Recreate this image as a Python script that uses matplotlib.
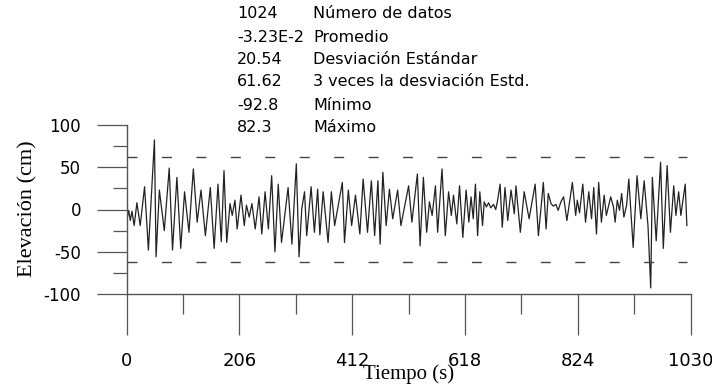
#!/usr/bin/env python
"""Registro de elevación de oleaje (1024 datos) -> out.png."""

import matplotlib.pyplot as plt
from matplotlib.ticker import MultipleLocator

plt.rcParams["axes.unicode_minus"] = False

# Puntos de giro del registro (tiempo en s, elevación en cm)
TIME = [
    0, 4, 7, 10, 14, 19, 25, 33, 40, 51, 54, 60, 69, 78, 84, 92, 99, 106, 114,
    122, 129, 136, 144, 153, 160, 167,
    173, 178, 183, 189, 193, 198, 202, 209, 215, 219, 224, 229, 235, 242, 247,
    253, 259, 265, 271, 277, 283, 295, 302, 310, 315, 320, 325, 329, 337, 343,
    349,
    353, 359, 368, 374, 380, 394, 398, 405, 411, 418, 426, 432, 440, 447, 453,
    459, 463, 468, 474, 480, 486, 495, 501, 515, 521, 531,
    536, 542, 548, 553, 558, 564, 568, 576, 582, 588, 593, 597, 603, 608, 614,
    620, 625, 629, 633, 637, 641, 645, 650, 653, 657, 661, 665, 670, 674, 677,
    682, 686, 691, 696, 702, 708,
    711, 719, 726, 735, 746, 752, 761, 766, 770, 775, 779, 784, 788, 793, 798,
    804, 814, 820, 823, 827, 833, 838, 844, 849, 853, 858, 862, 867, 872, 876,
    884, 889,
    892, 896, 900, 904, 908, 913, 917, 925, 932, 939, 945, 952, 957, 960, 967,
    975, 980, 987, 993, 999, 1003, 1008, 1012, 1020, 1023,
]
ELEV = [
    -15, -1, -13, -2, -19, 8, -19, 27, -48, 82.3, -56, 23, -25, 49, -48, 38,
    -46, 21, -27, 48, -15, 23, -31, 26, -46, 30,
    -38, 46, -39, 7, -7, 11, -23, 17, -19, 5, -9, 7, -23, 15, -29, 21, -23, 40,
    -50, 30, -39, 26, -41, 54, -56, 1, 21, -31, 27, -27, 24,
    -30, 21, -39, 21, -19, 32, -39, 23, -19, 17, -29, 36, -27, 34, -31, 34, -41,
    44, -19, 24, -11, 23, -19, 28, -15, 42,
    -43, 38, -27, 9, -7, 28, -27, 48, -31, 21, -7, 17, -17, 28, -33, 23, -15,
    15, -11, 30, -31, 21, -19, 9, 3, 8, 2, 6, 0, 9, 30, -21, 26, -13, 23, -5,
    28, -27, 21, -11, 30, -31, 32, -23, 19, 7, 4, 6, -1, 9, 15, -13, 32, -7, 11,
    -4, 30, -15, 21, -11, 26, -29, 32, -15, 17, -7, 15, 3,
    -15, 11, -1, 19, -9, 5, 36, -45, 40, -11, 34, -19, -92.8, 38, -37, 56, -46,
    52, -27, 28, -7, 21, -7, 30, -19,
]

THREE_STD = 61.62

STATS_VALUES = ["1024", "-3.23E-2", "20.54", "61.62", "-92.8", "82.3"]
STATS_LABELS = [
    "Número de datos",
    "Promedio",
    "Desviación Estándar",
    "3 veces la desviación Estd.",
    "Mínimo",
    "Máximo",
]

X_TICKS = [0, 206, 412, 618, 824, 1030]
Y_TICKS = [-100, -50, 0, 50, 100]

W, H = 712, 386
SERIF = ["Liberation Serif", "DejaVu Serif"]


def main():
    fig = plt.figure(figsize=(W / 100, H / 100), dpi=100)
    left, right, top, bottom = 126.5, 690.7, 125.0, 294.0
    ax = fig.add_axes([left / W, 1 - bottom / H, (right - left) / W,
                       (bottom - top) / H])

    ax.plot(TIME, ELEV, color="#222222", lw=0.9)
    for lvl in (THREE_STD, -THREE_STD):
        ax.plot([0, TIME[-1]], [lvl, lvl], color="#444444", lw=1.0,
                linestyle=(0, (7.2, 17.6)))

    ax.set_xlim(0, 1030)
    ax.set_ylim(-100, 100)
    ax.set_xticks(X_TICKS)
    ax.set_yticks(Y_TICKS)
    ax.xaxis.set_minor_locator(MultipleLocator(103))
    ax.yaxis.set_minor_locator(MultipleLocator(25))

    for side in ("top", "right"):
        ax.spines[side].set_visible(False)
    for side in ("left", "bottom"):
        ax.spines[side].set_color("#555555")
        ax.spines[side].set_linewidth(1.0)

    ax.tick_params(axis="x", which="major", length=29.5, width=0.9,
                   color="#555555", pad=12, labelsize=13)
    ax.tick_params(axis="x", which="minor", length=14.4, width=0.9,
                   color="#555555")
    ax.tick_params(axis="y", which="major", length=21.6, width=0.9,
                   color="#555555", pad=11, labelsize=12)
    ax.tick_params(axis="y", which="minor", length=10, width=0.9,
                   color="#555555")

    fig.text(28 / W, 1 - 209 / H, "Elevación (cm)", rotation=90,
             ha="center", va="center", fontsize=16, family=SERIF)
    fig.text((left + right) / 2 / W, 1 - 374 / H, "Tiempo (s)",
             ha="center", va="center", fontsize=15, family=SERIF)

    row_y = [14, 37, 59, 82, 105, 127]
    for y, val, lab in zip(row_y, STATS_VALUES, STATS_LABELS):
        fig.text(237 / W, 1 - y / H, val, ha="left", va="center",
                 fontsize=11.5)
        fig.text(313 / W, 1 - y / H, lab, ha="left", va="center",
                 fontsize=11.5)

    fig.savefig("out.png", dpi=100)


if __name__ == "__main__":
    main()
